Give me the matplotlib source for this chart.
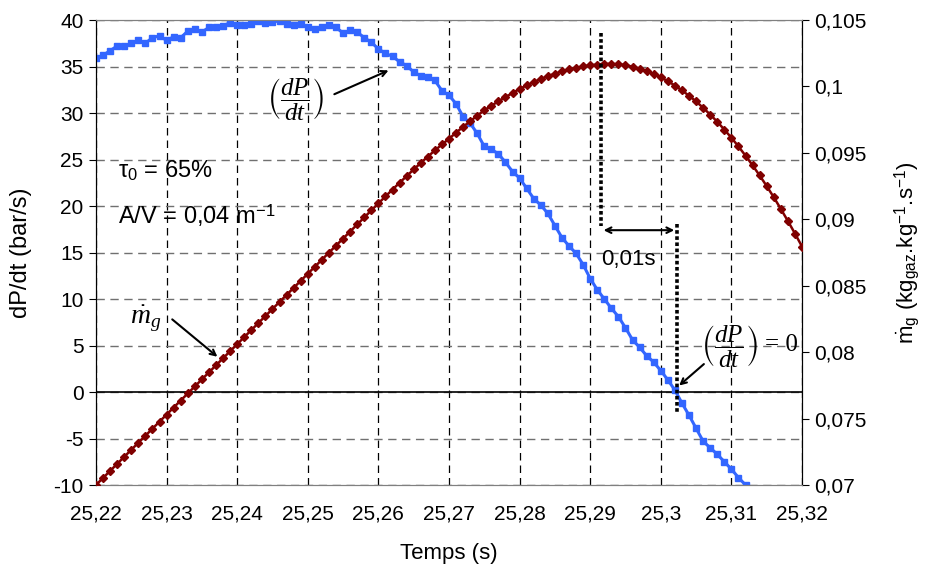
import numpy as np
import matplotlib
matplotlib.use('Agg')
import matplotlib.pyplot as plt
from matplotlib.ticker import FuncFormatter

plt.rcParams['font.family'] = ['Liberation Sans', 'DejaVu Sans']
plt.rcParams['mathtext.fontset'] = 'custom'
plt.rcParams['mathtext.rm'] = 'Liberation Sans'
plt.rcParams['mathtext.it'] = 'Liberation Serif:italic'
plt.rcParams['mathtext.fallback'] = 'stix'
plt.rcParams['axes.unicode_minus'] = False

# temps (s), pas d'acquisition 1 ms
t_debut = 25.22
pas = 0.001

dpdt = [35.9, 36.2, 36.7, 37.2, 37.2, 37.5, 37.8, 37.5, 38.1, 38.3,
        37.8, 38.2, 38.1, 38.8, 39.0, 38.7, 39.2, 39.2, 39.4, 39.7,
        39.5, 39.5, 39.6, 39.9, 39.7, 39.8, 39.9, 39.6, 39.5, 39.6,
        39.2, 39.0, 39.2, 39.5, 39.2, 38.6, 38.9, 38.7, 38.1, 37.6,
        36.9, 36.4, 36.1, 35.5, 35.1, 34.4, 34.0, 33.9, 33.5, 32.4,
        31.9, 31.0, 29.6, 28.9, 27.8, 26.4, 26.1, 25.6, 24.7, 23.7,
        23.0, 21.9, 20.8, 20.1, 19.2, 17.9, 16.6, 15.7, 14.9, 13.7,
        12.2, 11.0, 10.0, 9.0, 8.1, 6.9, 5.6, 4.8, 3.9, 3.2,
        2.3, 1.3, 0.2, -1.2, -2.5, -3.9, -5.3, -6.0, -6.7, -7.5,
        -8.3, -9.2, -10.0]

mg = [0.07000, 0.07053, 0.07106, 0.07159, 0.07212, 0.07265, 0.07318, 0.07371, 0.07424, 0.07477,
      0.07530, 0.07583, 0.07636, 0.07689, 0.07742, 0.07795, 0.07848, 0.07901, 0.07954, 0.08007,
      0.08060, 0.08113, 0.08166, 0.08219, 0.08272, 0.08325, 0.08378, 0.08431, 0.08484, 0.08537,
      0.08590, 0.08643, 0.08696, 0.08749, 0.08802, 0.08855, 0.08908, 0.08961, 0.09014, 0.09067,
      0.09120, 0.09172, 0.09224, 0.09275, 0.09325, 0.09375, 0.09424, 0.09472, 0.09518, 0.09563,
      0.09606, 0.09652, 0.09696, 0.09738, 0.09780, 0.09820, 0.09855, 0.09888, 0.09920, 0.09951,
      0.09981, 0.10008, 0.10033, 0.10056, 0.10077, 0.10096, 0.10113, 0.10128, 0.10140, 0.10151,
      0.10159, 0.10165, 0.10170, 0.10170, 0.10167, 0.10160, 0.10149, 0.10134, 0.10116, 0.10094,
      0.10069, 0.10039, 0.10007, 0.09970, 0.09930, 0.09887, 0.09839, 0.09788, 0.09734, 0.09675,
      0.09614, 0.09548, 0.09479, 0.09406, 0.09330, 0.09250, 0.09166, 0.09078, 0.08987, 0.08893,
      0.08795]

t_mg = t_debut + pas * np.arange(len(mg))
t_dp = t_debut + pas * np.arange(len(dpdt))

x_ticks = [25.22, 25.23, 25.24, 25.25, 25.26, 25.27, 25.28, 25.29, 25.30, 25.31, 25.32]
y1_ticks = [-10, -5, 0, 5, 10, 15, 20, 25, 30, 35, 40]
y2_ticks = [0.07, 0.075, 0.08, 0.085, 0.09, 0.095, 0.1, 0.105]


def virgule(fmt):
    def f(v, pos):
        s = (fmt % v).rstrip('0').rstrip('.')
        return s.replace('.', ',')
    return FuncFormatter(f)


fig = plt.figure(figsize=(9.29, 5.70), dpi=100)
ax = fig.add_axes([0.1033, 0.1491, 0.760, 0.8158])
ax2 = ax.twinx()

ax.set_xlim(25.22, 25.32)
ax.set_ylim(-10, 40)
ax2.set_ylim(0.07, 0.105)

# grille facon Excel
ax.set_xticks(x_ticks)
ax.set_yticks(y1_ticks)
ax2.set_yticks(y2_ticks)
ax.yaxis.grid(True, color='#707070', linestyle=(0, (6, 4)), lw=1)
ax.xaxis.grid(True, color='black', linestyle=(0, (6, 4)), lw=0.9)
ax.axhline(0, color='black', lw=1.2)

ax.plot(t_dp, dpdt, color='#3366ff', lw=2.2, marker='s', ms=4.8, zorder=3)
ax2.plot(t_mg, mg, color='#800000', lw=1.8, marker='D', ms=3.6, zorder=3)

ax.xaxis.set_major_formatter(virgule('%.2f'))
ax2.yaxis.set_major_formatter(virgule('%.3f'))
ax.tick_params(axis='x', length=0, pad=14, labelsize=15)
ax.tick_params(axis='y', direction='out', length=5, labelsize=15, pad=4)
ax2.tick_params(axis='y', direction='out', length=5, labelsize=15, pad=4)

for a in (ax, ax2):
    a.spines['top'].set_color('#808080')
    a.spines['bottom'].set_color('#808080')
ax.spines['left'].set_color('black')
ax2.spines['right'].set_color('black')

ax.set_xlabel('Temps (s)', fontsize=16)
ax.xaxis.set_label_coords(0.5, -0.124)
ax.set_ylabel('dP/dt (bar/s)', fontsize=17)
ax.yaxis.set_label_coords(-0.09, 0.5)
ax2.set_ylabel(r'$\dot{\mathrm{m}}_\mathrm{g}$ (kg$_\mathrm{gaz}$.kg$^{-1}$.s$^{-1}$)', fontsize=16)
ax2.yaxis.set_label_coords(1.128, 0.5)

# annotations (en coordonnees de l'axe gauche)
tr = ax.transData
ax2.text(25.2231, 23.8, r'$\mathrm{\tau}_0$ = 65%', transform=tr, fontsize=17, va='center')
ax2.text(25.2231, 19.0, r'A/V = 0,04 m$^{-1}$', transform=tr, fontsize=17, va='center')

ax2.text(25.2482, 31.5, r'$\left(\dfrac{dP}{dt}\right)$', transform=tr, fontsize=18,
         ha='center', va='center')
ax2.annotate('', xy=(25.2618, 34.7), xytext=(25.2534, 31.9), xycoords=tr, textcoords=tr,
             arrowprops=dict(arrowstyle='->', color='black', lw=1.5))

ax2.text(25.3097, 4.95, r'$\left(\dfrac{dP}{dt}\right)$', transform=tr, fontsize=18,
         ha='center', va='center')
ax2.text(25.3148, 5.05, '= 0', transform=tr, fontsize=18, family='Liberation Serif',
         ha='left', va='center')
ax2.annotate('', xy=(25.3023, 0.5), xytext=(25.3064, 3.2), xycoords=tr, textcoords=tr,
             arrowprops=dict(arrowstyle='->', color='black', lw=1.5))

ax2.text(25.2271, 8.0, r'$\dot{m}_g$', transform=tr, fontsize=20, ha='center', va='center')
ax2.annotate('', xy=(25.2375, 3.6), xytext=(25.2305, 8.0), xycoords=tr, textcoords=tr,
             arrowprops=dict(arrowstyle='->', color='black', lw=1.5))

# pointilles et ecart de 0,01 s
ax2.plot([25.2915, 25.2915], [38.6, 17.8], transform=tr, color='black', lw=2.6,
         linestyle=(0, (1, 0.7)), zorder=4)
ax2.plot([25.3023, 25.3023], [18.1, -2.3], transform=tr, color='black', lw=2.6,
         linestyle=(0, (1, 0.7)), zorder=4)
ax2.annotate('', xy=(25.3023, 17.4), xytext=(25.2915, 17.4), xycoords=tr, textcoords=tr,
             arrowprops=dict(arrowstyle='<->', color='black', lw=1.5))
ax2.text(25.2954, 14.25, '0,01s', transform=tr, fontsize=16, ha='center', va='center')

fig.savefig('out.png', dpi=100)
